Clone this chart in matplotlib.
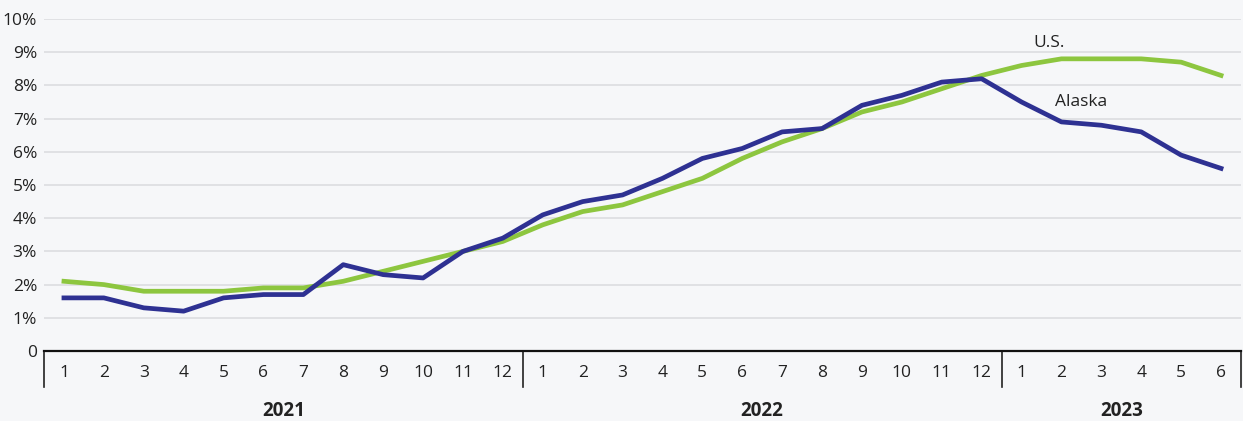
import matplotlib
matplotlib.use("Agg")
import matplotlib.pyplot as plt
import matplotlib.transforms as mtransforms

plt.rcParams['font.family'] = ['Open Sans', 'DejaVu Sans']

years = ["2021", "2022", "2023"]
months_per_year = [12, 12, 6]
month_labels = [str(m) for n in months_per_year for m in range(1, n + 1)]

alaska = [1.6, 1.6, 1.3, 1.2, 1.6, 1.7, 1.7, 2.6, 2.3, 2.2, 3.0, 3.4,
          4.1, 4.5, 4.7, 5.2, 5.8, 6.1, 6.6, 6.7, 7.4, 7.7, 8.1, 8.2,
          7.5, 6.9, 6.8, 6.6, 5.9, 5.5]
us = [2.1, 2.0, 1.8, 1.8, 1.8, 1.9, 1.9, 2.1, 2.4, 2.7, 3.0, 3.3,
      3.8, 4.2, 4.4, 4.8, 5.2, 5.8, 6.3, 6.7, 7.2, 7.5, 7.9, 8.3,
      8.6, 8.8, 8.8, 8.8, 8.7, 8.3]
y_ticks = [0, 1, 2, 3, 4, 5, 6, 7, 8, 9, 10]
y_tick_labels = ["0"] + [f"{v}%" for v in y_ticks[1:]]

W, H = 1243, 421
bg = "#f6f7f9"
navy = "#2e3192"
green = "#8dc63f"

fig = plt.figure(figsize=(W / 100, H / 100), dpi=100, facecolor=bg)
ax = fig.add_axes([44 / W, (H - 351) / H, (1241 - 44) / W, (351 - 19) / H])
ax.set_facecolor(bg)

x = list(range(len(month_labels)))
ax.set_xlim(-0.5, len(month_labels) - 0.5)
ax.set_ylim(0, 10)

for v in y_ticks[1:]:
    ax.axhline(v, color="#dcdde0", lw=1.2, zorder=1)

ax.plot(x, us, color=green, lw=3.4, zorder=3, solid_joinstyle="round")
ax.plot(x, alaska, color=navy, lw=3.4, zorder=4, solid_joinstyle="round")

ax.text(x[25] - 0.7, 9.05, "U.S.", fontsize=12.5, color="#222222", ha="left", va="bottom")
ax.text(x[25] - 0.15, 7.5, "Alaska", fontsize=12.5, color="#222222", ha="left", va="center")

for s in ["top", "right", "left"]:
    ax.spines[s].set_visible(False)
ax.spines["bottom"].set_color("#111111")
ax.spines["bottom"].set_linewidth(1.6)

ax.set_yticks(y_ticks)
ax.set_yticklabels(y_tick_labels, fontsize=12.5, color="#222222")
ax.tick_params(axis="y", length=0, pad=5)
ax.set_xticks(x)
ax.set_xticklabels(month_labels, fontsize=12.5, color="#222222")
ax.tick_params(axis="x", length=0, pad=10)

# year separators and labels below the month ticks
trans = mtransforms.blended_transform_factory(ax.transData, ax.transAxes)
sep_h = 36 / (351 - 19)
bounds = [-0.5]
for n in months_per_year:
    bounds.append(bounds[-1] + n)
for b in bounds:
    ax.plot([b, b], [0, -sep_h], color="#222222", lw=1.2, transform=trans, clip_on=False)
for i, yr in enumerate(years):
    mid = (bounds[i] + bounds[i + 1]) / 2
    ax.text(mid, -60 / (351 - 19), yr, transform=trans, ha="center", va="center",
            fontsize=13.5, fontweight="bold", color="#222222")

fig.savefig("out.png", dpi=100, facecolor=bg)
